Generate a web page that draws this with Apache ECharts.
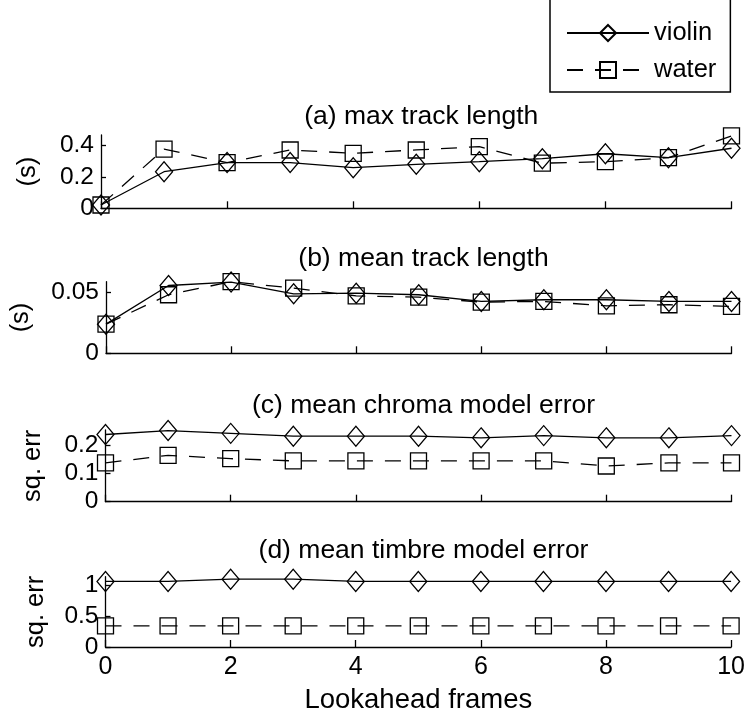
<!DOCTYPE html>
<html><head><meta charset="utf-8">
<script src="https://cdn.jsdelivr.net/npm/echarts@6/dist/echarts.min.js"></script>
<style>html,body{margin:0;padding:0;background:#fff}#c{width:748px;height:715px}</style>
</head><body><div id="c"></div>
<script>
// ---- data ----
const frames = [0, 1, 2, 3, 4, 5, 6, 7, 8, 9, 10];
const seriesNames = ['violin', 'water'];
const panelTitles = ['(a) max track length', '(b) mean track length', '(c) mean chroma model error', '(d) mean timbre model error'];
const yAxisNames = ['(s)', '(s)', 'sq. err', 'sq. err'];
const xAxisName = 'Lookahead frames';

const maxLenViolin = [0.021, 0.232, 0.290, 0.290, 0.258, 0.279, 0.296, 0.315, 0.346, 0.321, 0.381];
const maxLenWater  = [0.021, 0.375, 0.290, 0.370, 0.349, 0.370, 0.391, 0.286, 0.296, 0.321, 0.459];
const meanLenViolin = [0.0239, 0.0556, 0.0584, 0.0488, 0.0493, 0.0480, 0.0425, 0.0439, 0.0439, 0.0425, 0.0425];
const meanLenWater  = [0.0239, 0.0480, 0.0587, 0.0534, 0.0471, 0.0460, 0.0420, 0.0425, 0.0389, 0.0398, 0.0384];
const chromaViolin = [0.239, 0.253, 0.243, 0.233, 0.233, 0.233, 0.227, 0.235, 0.227, 0.227, 0.235];
const chromaWater  = [0.138, 0.165, 0.153, 0.145, 0.145, 0.145, 0.145, 0.145, 0.127, 0.138, 0.138];
const timbreViolin = [1.054, 1.054, 1.09, 1.09, 1.054, 1.054, 1.054, 1.054, 1.054, 1.054, 1.054];
const timbreWater  = [0.34, 0.34, 0.34, 0.34, 0.34, 0.34, 0.34, 0.34, 0.34, 0.34, 0.34];

const xTicks = [0, 2, 4, 6, 8, 10];
const yTicksA = [0, 0.2, 0.4];
const yTicksB = [0, 0.05];
const yTicksC = [0, 0.1, 0.2];
const yTicksD = [0, 0.5, 1];
const yLimits = [0.465, 0.0587, 0.255, 1.13];

// ---- layout / style ----
const FONT = "'Liberation Sans', Arial, Helvetica, sans-serif";
const panels = [
  {left: 101, top: 135, height: 73.3, ticks: yTicksA, v: maxLenViolin, w: maxLenWater, nameGap: 60, titleTop: 98},
  {left: 105.5, top: 281.7, height: 71.6, ticks: yTicksB, v: meanLenViolin, w: meanLenWater, nameGap: 72, titleTop: 240},
  {left: 105.5, top: 430, height: 71.7, ticks: yTicksC, v: chromaViolin, w: chromaWater, nameGap: 60, titleTop: 387},
  {left: 105.5, top: 576.7, height: 71.6, ticks: yTicksD, v: timbreViolin, w: timbreWater, nameGap: 57, titleTop: 532}
];
const RIGHT_EDGE = 731.5;
const axisLineStyle = {color: '#000', width: 1.3};

const grids = [], xAxes = [], yAxes = [], series = [], titles = [];
panels.forEach((p, i) => {
  grids.push({left: p.left, top: p.top, width: RIGHT_EDGE - p.left, height: p.height, containLabel: false});
  titles.push({
    text: panelTitles[i], left: (p.left + RIGHT_EDGE) / 2, top: p.titleTop, textAlign: 'center',
    textStyle: {fontFamily: FONT, fontSize: 26.5, fontWeight: 'normal', color: '#000'}
  });
  const last = i === panels.length - 1;
  xAxes.push({
    type: 'value', gridIndex: i, min: 0, max: 10, interval: 2,
    axisLine: {show: true, lineStyle: axisLineStyle},
    axisTick: {show: true, inside: true, length: 7, lineStyle: axisLineStyle, customValues: xTicks},
    axisLabel: {show: last, customValues: xTicks, fontFamily: FONT, fontSize: 25, color: '#000', margin: 8},
    splitLine: {show: false},
    name: last ? xAxisName : '', nameLocation: 'middle', nameGap: 39,
    nameTextStyle: {fontFamily: FONT, fontSize: 27.5, color: '#000'}
  });
  yAxes.push({
    type: 'value', gridIndex: i, min: 0, max: yLimits[i],
    axisLine: {show: true, lineStyle: axisLineStyle},
    axisTick: {show: true, inside: true, length: 5, lineStyle: axisLineStyle, customValues: p.ticks},
    axisLabel: {customValues: p.ticks, fontFamily: FONT, fontSize: 24.5, color: '#000', margin: 7,
      formatter: v => String(v)},
    splitLine: {show: false},
    name: yAxisNames[i], nameLocation: 'middle', nameGap: p.nameGap, nameRotate: 90,
    nameTextStyle: {fontFamily: FONT, fontSize: 25.5, color: '#000'}
  });
  series.push({
    name: seriesNames[0], type: 'line', xAxisIndex: i, yAxisIndex: i,
    data: frames.map((f, k) => [f, p.v[k]]),
    symbol: 'diamond', symbolSize: [17, 20], clip: false, silent: true, animation: false,
    lineStyle: {color: '#000', width: 1.3, type: 'solid'},
    itemStyle: {color: 'rgba(0,0,0,0)', borderColor: '#000', borderWidth: 1.3}
  });
  series.push({
    name: seriesNames[1], type: 'line', xAxisIndex: i, yAxisIndex: i,
    data: frames.map((f, k) => [f, p.w[k]]),
    symbol: 'rect', symbolSize: 16, clip: false, silent: true, animation: false,
    lineStyle: {color: '#000', width: 1.3, type: [16, 12]},
    itemStyle: {color: 'rgba(0,0,0,0)', borderColor: '#000', borderWidth: 1.3}
  });
});

const chart = echarts.init(document.getElementById('c'), null, {renderer: 'canvas'});
chart.setOption({
  animation: false,
  backgroundColor: '#fff',
  title: titles,
  legend: {
    data: seriesNames, orient: 'vertical', left: 550, top: -6,
    padding: [25, 14, 8, 16], itemGap: 9, itemWidth: 82, itemHeight: 20,
    borderColor: '#000', borderWidth: 1.5, backgroundColor: '#fff',
    selectedMode: false,
    textStyle: {fontFamily: FONT, fontSize: 25.5, color: '#000', lineHeight: 28}
  },
  grid: grids, xAxis: xAxes, yAxis: yAxes, series: series
});
</script>
</body></html>
